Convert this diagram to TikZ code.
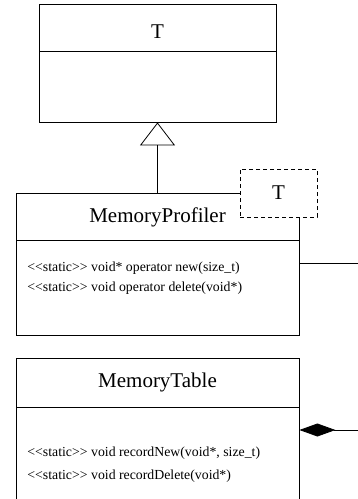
\documentclass[tikz,border=0pt]{standalone}
\usepackage{fontspec}
\newfontfamily\umlfont{Liberation Serif}
\usetikzlibrary{arrows.meta}

\begin{document}
\begin{tikzpicture}[x=1pt, y=-1pt, line width=0.8pt,
    part/.style={draw, rectangle, inner sep=0pt, fill=white, font=\umlfont\fontsize{21}{25}\selectfont},
    method/.style={anchor=west, inner sep=0pt, font=\umlfont\fontsize{13.8}{16}\selectfont},
    tparam/.style={draw, dashed, dash pattern=on 4pt off 3pt, fill=white, inner sep=0pt,
      minimum width=77pt, minimum height=48pt, font=\umlfont\fontsize{21}{25}\selectfont}]

  \useasboundingbox (0,0) rectangle (358,499);

  % base class T
  \node[part, minimum width=237pt, minimum height=47pt, text height=22pt] (Ttitle) at (157.5,27.5){T};
  \node[part, minimum width=237pt, minimum height=71pt] (Tbody) at (157.5,86.5){};

  % MemoryProfiler
  \node[part, minimum width=283pt, minimum height=47pt] (MPtitle) at (157.5,217){MemoryProfiler};
  \node[part, minimum width=283pt, minimum height=95pt] (MPbody) at (157.5,288){};
  \node[method] (mpNew) at (27,268.5){<<static>> void* operator new(size\_t)};
  \node[method] (mpDelete) at (27,288.5){<<static>> void operator delete(void*)};
  \node[tparam] (MPparam) at (278.5,193){T};

  % inheritance
  \draw[-{Triangle[open, length=23pt, width=35pt]}] (MPtitle.north) -- (Tbody.south);

  % MemoryTable
  \node[part, minimum width=283pt, minimum height=49pt] (MTtitle) at (157.5,382.5){MemoryTable};
  \node[part, minimum width=283pt, minimum height=110pt] (MTbody) at (157.5,462){};
  \node[method] (mtNew) at (27,453){<<static>> void recordNew(void*, size\_t)};
  \node[method] (mtDelete) at (27,476){<<static>> void recordDelete(void*)};

  % links leaving the picture
  \coordinate (profilerEnd) at (358,263);
  \coordinate (tableEnd) at (358,430);
  \draw (profilerEnd -| MPbody.east) -- (profilerEnd);
  \draw[{Diamond[length=36pt, width=13pt]}-] (tableEnd -| MTbody.east) -- (tableEnd);

\end{tikzpicture}
\end{document}
